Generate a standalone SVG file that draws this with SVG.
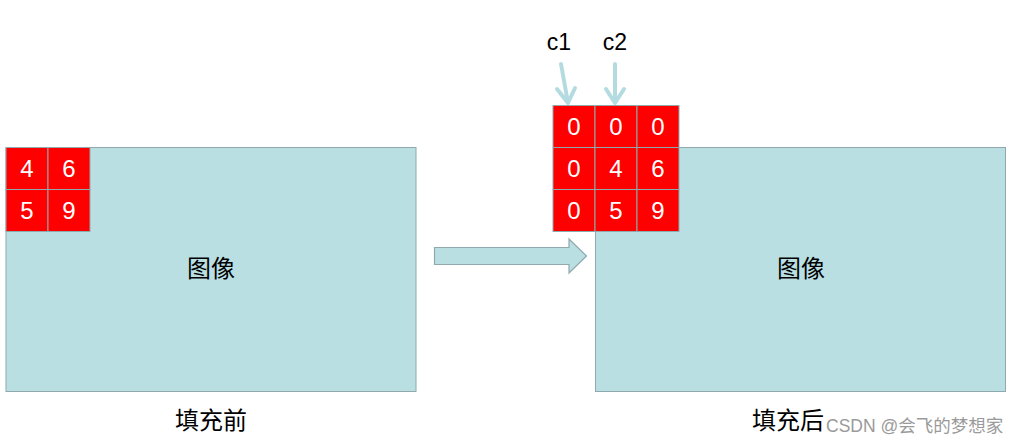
<svg xmlns="http://www.w3.org/2000/svg" width="1017" height="445" viewBox="0 0 1017 445">
<style>
.img{fill:#B9DFE3;stroke:#8FA9AD;stroke-width:1}
.cell{fill:#FF0000;stroke:#8FA9AD;stroke-width:1}
.num{font-family:"Liberation Sans",Arial,sans-serif;font-size:24px;fill:#FFFFFF;text-anchor:middle}
.cn{font-family:"Noto Sans CJK SC",sans-serif;font-size:24px;fill:#000000;text-anchor:middle}
.lab{font-family:"Liberation Sans",Arial,sans-serif;font-size:23px;fill:#000000;text-anchor:middle}
.ptr{fill:none;stroke:#B4DCE0;stroke-width:4;stroke-linecap:round;stroke-linejoin:round}
.wm{font-family:"Liberation Sans","Noto Sans CJK SC",sans-serif;font-size:17.5px;fill:#9A9A9A}
</style>
<rect width="1017" height="445" fill="#FFFFFF"/>
<g id="before">
<rect class="img" x="6" y="147.5" width="410" height="244"/>
<text class="cn" x="211" y="277">图像</text>
</g>
<g id="before-kernel">
<rect class="cell" x="6" y="147.5" width="42" height="42"/>
<rect class="cell" x="48" y="147.5" width="42" height="42"/>
<rect class="cell" x="6" y="189.5" width="42" height="42"/>
<rect class="cell" x="48" y="189.5" width="42" height="42"/>
<text class="num" x="27" y="177">4</text>
<text class="num" x="69" y="177">6</text>
<text class="num" x="27" y="219">5</text>
<text class="num" x="69" y="219">9</text>
</g>
<g id="label-before"><text class="cn" x="211" y="429">填充前</text></g>
<g id="after">
<rect class="img" x="595.5" y="147.5" width="410" height="244"/>
<text class="cn" x="801" y="277">图像</text>
</g>
<g id="after-kernel">
<rect class="cell" x="553" y="105.5" width="42" height="42"/>
<rect class="cell" x="595" y="105.5" width="42" height="42"/>
<rect class="cell" x="637" y="105.5" width="42" height="42"/>
<rect class="cell" x="553" y="147.5" width="42" height="42"/>
<rect class="cell" x="595" y="147.5" width="42" height="42"/>
<rect class="cell" x="637" y="147.5" width="42" height="42"/>
<rect class="cell" x="553" y="189.5" width="42" height="42"/>
<rect class="cell" x="595" y="189.5" width="42" height="42"/>
<rect class="cell" x="637" y="189.5" width="42" height="42"/>
<text class="num" x="574" y="135">0</text>
<text class="num" x="616" y="135">0</text>
<text class="num" x="658" y="135">0</text>
<text class="num" x="574" y="177">0</text>
<text class="num" x="616" y="177">4</text>
<text class="num" x="658" y="177">6</text>
<text class="num" x="574" y="219">0</text>
<text class="num" x="616" y="219">5</text>
<text class="num" x="658" y="219">9</text>
</g>
<g id="label-after"><text class="cn" x="788" y="429">填充后</text></g>
<g id="c1"><text class="lab" x="559" y="50">c1</text></g>
<g id="c2"><text class="lab" x="615" y="50">c2</text></g>
<g id="connectors">
<path d="M434.5,247.5 H569 V239 L586.5,256 L569,273 V264.5 H434.5 Z" fill="#B9DFE3" stroke="#8FA9AD" stroke-width="1.2"/>
<path class="ptr" d="M561,64 L568,103 M557,89 L568,103 L575,88"/>
<path class="ptr" d="M615,64 V103 M606,89 L615,103 L624,89"/>
</g>
<text class="wm" x="826" y="432">CSDN @会飞的梦想家</text>
</svg>
